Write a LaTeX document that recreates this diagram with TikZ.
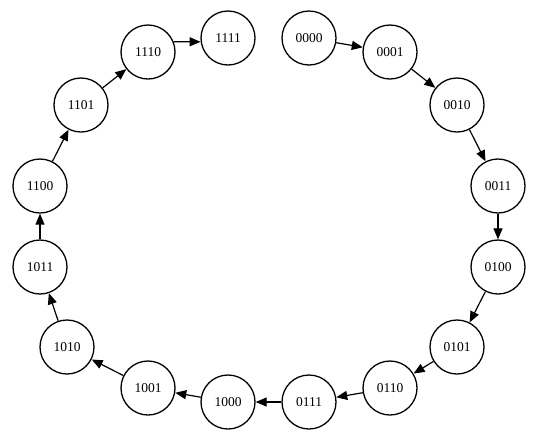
\documentclass[tikz,border=0pt]{standalone}
\usepackage{fontspec}
\setmainfont{Liberation Serif}
\usetikzlibrary{arrows.meta}
\begin{document}
\begin{tikzpicture}[x=1pt,y=-1pt,
  st/.style={circle,draw,line width=1.3pt,minimum size=54pt,inner sep=0pt,font=\fontsize{13.5}{15}\selectfont},
  ar/.style={line width=1.2pt,-{Triangle[length=11pt,width=9pt]}}]
\useasboundingbox (0,0) rectangle (540,437);
\node[st] (n0) at (309,38) {0000};
\node[st] (n1) at (390,52) {0001};
\node[st] (n2) at (457,105) {0010};
\node[st] (n3) at (498,186) {0011};
\node[st] (n4) at (498,267) {0100};
\node[st] (n5) at (457,347) {0101};
\node[st] (n6) at (390,388) {0110};
\node[st] (n7) at (309,402) {0111};
\node[st] (n8) at (228,402) {1000};
\node[st] (n9) at (148,388) {1001};
\node[st] (n10) at (67,347) {1010};
\node[st] (n11) at (40,267) {1011};
\node[st] (n12) at (40,186) {1100};
\node[st] (n13) at (81,105) {1101};
\node[st] (n14) at (148,52) {1110};
\node[st] (n15) at (228,38) {1111};
\foreach \a/\b in {0/1,1/2,2/3,3/4,4/5,5/6,6/7,7/8,8/9,9/10,10/11,11/12,12/13,13/14}
  \draw[ar] (n\a) -- (n\b);
\draw[ar] (n14.22) -- (n15.188);
\end{tikzpicture}
\end{document}
